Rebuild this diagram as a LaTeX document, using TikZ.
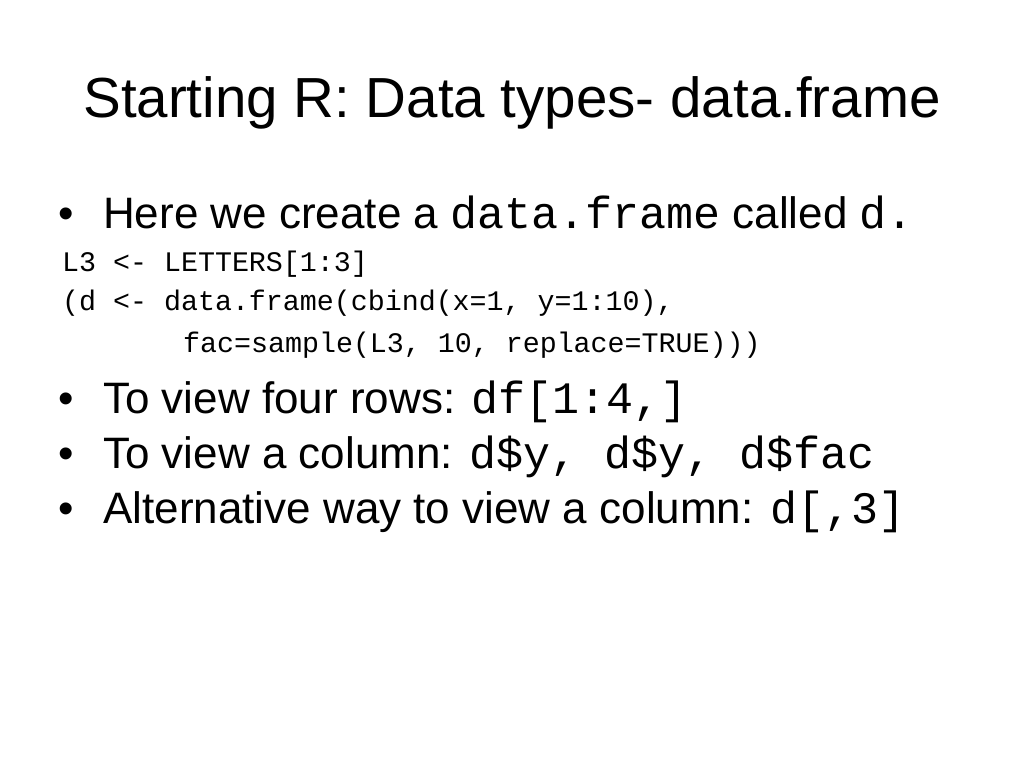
\documentclass[tikz,border=0pt]{standalone}
\usepackage{fontspec}
\setmainfont{Liberation Sans}
\setmonofont{Liberation Mono}
\newcommand{\bigtt}[1]{{\ttfamily\fontsize{45}{52}\selectfont #1}}
\begin{document}
\begin{tikzpicture}[x=1pt,y=-1pt,
  txt/.style={anchor=base west,inner sep=0pt,font=\fontsize{44}{52}\selectfont},
  code/.style={anchor=base west,inner sep=0pt,font=\ttfamily\fontsize{28.3}{34}\selectfont},
  bul/.style={anchor=base west,inner sep=0pt,font=\fontsize{44}{52}\selectfont}]
\useasboundingbox[fill=white] (0,0) rectangle (1024,768);
\node[anchor=base,inner sep=0pt,font=\fontsize{56.5}{64}\selectfont] (title) at (512,117) {Starting R: Data types- data.frame};
\node[bul] (b1) at (58,228) {•};
\node[txt] (t1) at (103,228) {Here we create a \bigtt{data.frame} called \bigtt{d.}};
\node[code] (c1) at (62,271) {L3 <- LETTERS[1:3]};
\node[code] (c2) at (62,310) {(d <- data.frame(cbind(x=1, y=1:10),};
\node[code] (c3) at (183,352) {fac=sample(L3, 10, replace=TRUE)))};
\node[bul] (b2) at (58,413) {•};
\node[txt] (t2) at (103,413) {To view four rows: \bigtt{df[1:4,]}};
\node[bul] (b3) at (58,468) {•};
\node[txt] (t3) at (103,468) {To view a column: \bigtt{d\$y, d\$y, d\$fac}};
\node[bul] (b4) at (58,523) {•};
\node[txt] (t4) at (103,523) {Alternative way to view a column: \bigtt{d[,3]}};
\end{tikzpicture}
\end{document}
